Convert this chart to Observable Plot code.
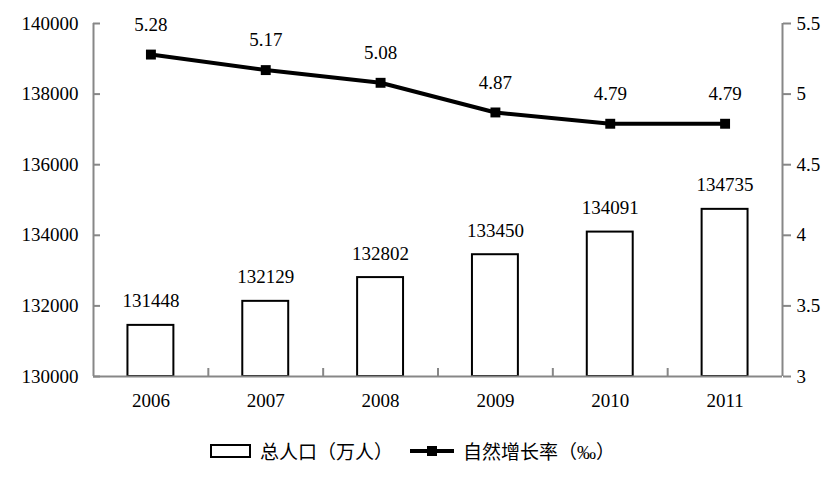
<!DOCTYPE html>
<html>
<head>
<meta charset="utf-8">
<script src="https://cdn.jsdelivr.net/npm/d3@7"></script>
<script src="https://cdn.jsdelivr.net/npm/@observablehq/plot@0.6"></script>
<style>
  html, body { margin: 0; padding: 0; background: #fff; }
  body { width: 838px; height: 481px; overflow: hidden; font-family: "Liberation Serif", "Times New Roman", "DejaVu Serif", "Noto Sans CJK SC", serif; }
  #chart svg, #chart svg text { font-family: "Liberation Serif", "Times New Roman", "DejaVu Serif", serif !important; }
  #legend { position: relative; height: 61px; display: flex; align-items: center; padding-left: 210px; box-sizing: border-box; font-size: 19px; color: #000; }
  .sw-box { width: 37px; height: 10px; border: 2px solid #000; background: #fff; }
  .lbl { margin-left: 9px; font-family: "Noto Sans CJK SC", sans-serif; font-size: 19px; }
  .lbl .pm { font-family: "Liberation Serif", "Times New Roman", "DejaVu Serif", serif; }
  .sw-line { position: relative; width: 44px; height: 10px; margin-left: 17px; }
  .sw-line::before { content: ""; position: absolute; left: 0; right: 0; top: 3px; height: 4px; background: #000; }
  .sw-line::after { content: ""; position: absolute; left: 17px; top: 0; width: 10px; height: 10px; background: #000; }
</style>
</head>
<body>
<div id="chart"></div>
<div id="legend">
  <div class="sw-box"></div><span class="lbl">总人口（万人）</span>
  <div class="sw-line"></div><span class="lbl">自然增长率（<span class="pm">‰</span>）</span>
</div>
<script>
const years = [2006, 2007, 2008, 2009, 2010, 2011];
const population = [131448, 132129, 132802, 133450, 134091, 134735];
const rate = [5.28, 5.17, 5.08, 4.87, 4.79, 4.79];
const leftTicks = [130000, 132000, 134000, 136000, 138000, 140000];
const rightTicks = [3, 3.5, 4, 4.5, 5, 5.5];

const popDomain = [130000, 140000];
const rateDomain = [3, 5.5];
// map the secondary (rate) axis onto the primary y scale
const toPop = d3.scaleLinear().domain(rateDomain).range(popDomain);

const data = years.map((y, i) => ({
  year: y,
  i,
  pop: population[i],
  rate: rate[i],
  rateY: toPop(rate[i])
}));

const grey = "#878787";
const boundaries = d3.range(1, years.length);
const ff = "'Liberation Serif', 'Times New Roman', 'DejaVu Serif', serif";

const chart = Plot.plot({
  width: 838,
  height: 420,
  marginTop: 23,
  marginBottom: 44,
  marginLeft: 93,
  marginRight: 56,
  style: { fontFamily: ff, fontSize: "19px", color: "#000", background: "#fff", overflow: "visible" },
  x: { type: "linear", domain: [0, years.length], axis: null },
  y: { domain: popDomain, axis: null },
  marks: [
    Plot.rect(data, {
      x1: d => d.i + 0.3, x2: d => d.i + 0.7,
      y1: popDomain[0], y2: "pop",
      fill: "#fff", stroke: "#000", strokeWidth: 2
    }),
    // axis lines
    Plot.ruleY([popDomain[0]], { stroke: grey, strokeWidth: 2 }),
    Plot.ruleX([0, years.length], { stroke: grey, strokeWidth: 2 }),
    // left axis ticks (inward) and labels
    Plot.axisY(leftTicks, { anchor: "left", tickSize: -7, tickFormat: () => "", stroke: grey, strokeWidth: 2 }),
    Plot.axisY(leftTicks, { anchor: "left", tickSize: 0, tickPadding: 15, fontSize: 19, fill: "#000", fontFamily: ff,
      tickFormat: d => String(d) }),
    // right axis ticks (outward) and labels
    Plot.axisY(rightTicks.map(toPop), { anchor: "right", tickSize: 8, tickPadding: 6, stroke: grey, strokeWidth: 2, fill: "#000", fontSize: 19, fontFamily: ff,
      tickFormat: p => d3.format("~g")(+toPop.invert(p).toFixed(2)) }),
    // bottom axis boundary ticks (inward) and year labels
    Plot.axisX(boundaries, { anchor: "bottom", tickSize: -8, tickFormat: () => "", stroke: grey, strokeWidth: 2 }),
    Plot.axisX(data.map(d => d.i + 0.5), { anchor: "bottom", tickSize: 0, tickPadding: 17, fontSize: 19, fill: "#000", fontFamily: ff,
      tickFormat: v => String(years[Math.floor(v)]) }),
    // bar labels
    Plot.text(data, { x: d => d.i + 0.5, y: "pop", text: d => String(d.pop), dy: -24, fontSize: 19, fill: "#000", fontFamily: ff }),
    // rate line
    Plot.line(data, { x: d => d.i + 0.5, y: "rateY", stroke: "#000", strokeWidth: 4 }),
    Plot.dot(data, { x: d => d.i + 0.5, y: "rateY", symbol: "square", r: 5.6, fill: "#000", stroke: "none" }),
    Plot.text(data, { x: d => d.i + 0.5, y: "rateY", text: d => d3.format(".2f")(d.rate), dy: -30, fontSize: 19, fill: "#000", fontFamily: ff })
  ]
});
document.getElementById("chart").appendChild(chart);
</script>
</body>
</html>
